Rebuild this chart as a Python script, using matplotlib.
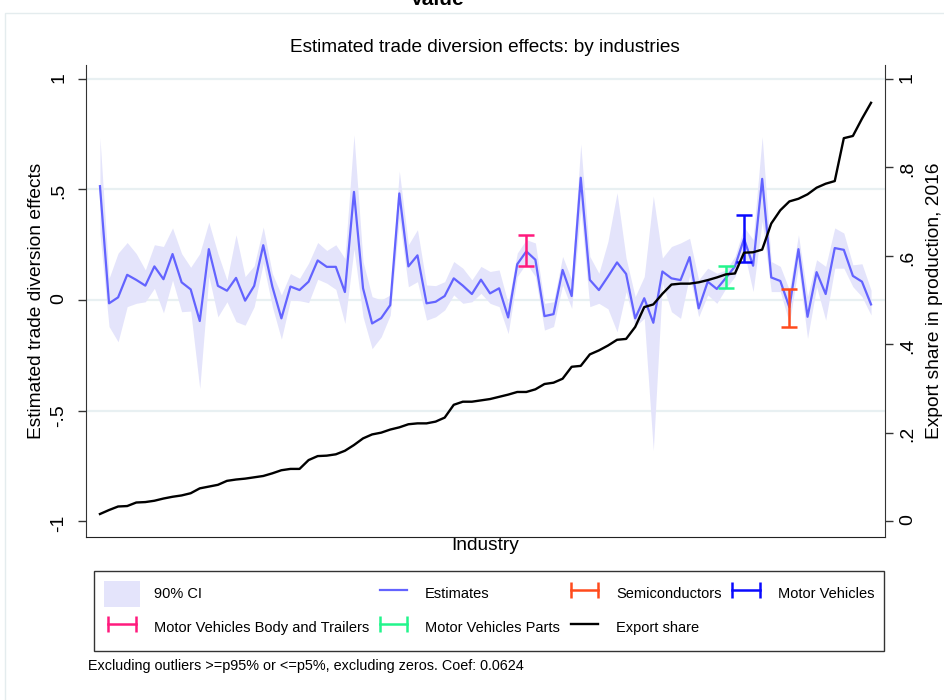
import numpy as np
import matplotlib
matplotlib.use("Agg")
import matplotlib.pyplot as plt
from matplotlib.lines import Line2D
from matplotlib.patches import Patch, Rectangle

plt.rcParams['font.family'] = ['Liberation Sans', 'DejaVu Sans']

# industry coefficients, sorted by export share
estimates = [
    0.515, -0.015, 0.012, 0.114, 0.091, 0.065, 0.152, 0.094, 0.208, 0.080,
    0.048, -0.095, 0.230, 0.064, 0.042, 0.100, -0.003, 0.064, 0.248, 0.061,
    -0.083, 0.061, 0.045, 0.083, 0.179, 0.150, 0.150, 0.036, 0.489, 0.053,
    -0.106, -0.082, -0.023, 0.482, 0.152, 0.202, -0.015, -0.008, 0.018, 0.098,
    0.065, 0.027, 0.092, 0.030, 0.053, -0.079, 0.162, 0.220, 0.182, -0.073,
    -0.064, 0.136, 0.018, 0.553, 0.091, 0.045, 0.106, 0.170, 0.118, -0.083,
    0.008, -0.103, 0.129, 0.098, 0.090, 0.194, -0.038, 0.083, 0.050, 0.100,
    0.152, 0.277, 0.155, 0.548, 0.102, 0.086, -0.033, 0.230, -0.076, 0.126,
    0.027, 0.235, 0.227, 0.109, 0.083, -0.020,
]
ci_hi = [
    0.734, 0.098, 0.212, 0.260, 0.210, 0.136, 0.250, 0.242, 0.326, 0.210,
    0.148, 0.210, 0.352, 0.210, 0.090, 0.295, 0.106, 0.155, 0.330, 0.120,
    0.023, 0.120, 0.098, 0.167, 0.260, 0.224, 0.250, 0.188, 0.747, 0.174,
    0.015, 0.000, 0.023, 0.583, 0.250, 0.318, 0.068, 0.065, 0.083, 0.174,
    0.144, 0.091, 0.152, 0.129, 0.136, -0.015, 0.212, 0.273, 0.258, -0.015,
    -0.008, 0.197, 0.091, 0.705, 0.197, 0.121, 0.265, 0.485, 0.189, 0.015,
    0.106, 0.470, 0.190, 0.242, 0.258, 0.279, 0.091, 0.144, 0.121, 0.136,
    0.197, 0.330, 0.273, 0.739, 0.174, 0.152, 0.045, 0.295, 0.015, 0.182,
    0.152, 0.326, 0.303, 0.159, 0.164, 0.045,
]
ci_lo = [
    0.300, -0.120, -0.189, -0.030, -0.015, -0.008, 0.053, -0.058, 0.090, -0.053,
    -0.050, -0.400, 0.108, -0.076, -0.008, -0.098, -0.114, -0.030, 0.167, -0.030,
    -0.177, 0.000, -0.003, -0.012, 0.094, 0.076, 0.048, -0.106, 0.231, -0.076,
    -0.220, -0.167, -0.068, 0.371, 0.060, 0.083, -0.091, -0.076, -0.045, 0.023,
    -0.015, -0.008, 0.030, -0.015, -0.030, -0.152, 0.106, 0.167, 0.106, -0.136,
    -0.120, 0.068, -0.038, 0.410, -0.030, -0.015, -0.040, -0.144, 0.038, -0.120,
    -0.083, -0.680, 0.076, -0.053, -0.083, 0.110, -0.076, 0.023, -0.015, 0.053,
    0.106, 0.220, 0.038, 0.357, 0.038, 0.038, -0.106, 0.152, -0.174, 0.060,
    -0.091, 0.144, 0.144, 0.060, 0.015, -0.068,
]
export_share = [
    0.016, 0.025, 0.033, 0.034, 0.042, 0.043, 0.046, 0.051, 0.055, 0.058,
    0.063, 0.074, 0.078, 0.082, 0.091, 0.094, 0.096, 0.099, 0.102, 0.108,
    0.115, 0.118, 0.118, 0.138, 0.147, 0.148, 0.151, 0.159, 0.172, 0.187,
    0.196, 0.200, 0.207, 0.212, 0.219, 0.221, 0.221, 0.225, 0.234, 0.263,
    0.270, 0.270, 0.273, 0.276, 0.281, 0.286, 0.292, 0.292, 0.298, 0.310,
    0.313, 0.322, 0.349, 0.351, 0.377, 0.386, 0.397, 0.410, 0.412, 0.439,
    0.484, 0.490, 0.514, 0.535, 0.537, 0.537, 0.540, 0.545, 0.551, 0.558,
    0.560, 0.607, 0.608, 0.614, 0.673, 0.703, 0.723, 0.729, 0.739, 0.754,
    0.763, 0.769, 0.866, 0.871, 0.910, 0.946,
]

# highlighted industries: position in the ordering and CI bounds
hl_names = ["Semiconductors", "Motor Vehicles",
            "Motor Vehicles Body and Trailers", "Motor Vehicles Parts"]
hl_pos = [77, 72, 48, 70]
hl_lo = [-0.121, 0.170, 0.152, 0.053]
hl_hi = [0.050, 0.386, 0.292, 0.152]
hl_colors = ["#ff4a1c", "#0a0aff", "#ff1a7d", "#22f58c"]

left_ticks = [-1, -0.5, 0, 0.5, 1]
left_labels = ["-1", "-.5", "0", ".5", "1"]
right_ticks = [0, 0.2, 0.4, 0.6, 0.8, 1]
right_labels = ["0", ".2", ".4", ".6", ".8", "1"]

x = np.arange(1, len(estimates) + 1)

W, H = 945, 700
fig = plt.figure(figsize=(W / 100, H / 100), dpi=100)

# faint outer frame of the graph region
fig.add_artist(Rectangle((5 / W, -0.1), 1.2, 1 - 13 / H + 0.1,
                         transform=fig.transFigure, fill=False,
                         edgecolor="#e4ecee", lw=1))
fig.text(437 / W, 1 - 5 / H, "Value", ha="center", va="baseline",
         fontsize=15, fontweight="bold")

ax = fig.add_axes([86 / W, 1 - 537 / H, (885 - 86) / W, (537 - 65) / H])
ax2 = ax.twinx()

for g in [-0.5, 0, 0.5, 1]:
    ax.axhline(g, color="#e8f0f2", lw=1.6, zorder=0)

ci_color = "#e4e4fb"
est_color = "#6363ff"
ax.fill_between(x, ci_lo, ci_hi, color=ci_color, lw=0, zorder=1)
ax.plot(x, estimates, color=est_color, lw=1.6, zorder=2)
for p, lo, hi, c in zip(hl_pos, hl_lo, hl_hi, hl_colors):
    mid = (lo + hi) / 2
    ax.errorbar([p], [mid], yerr=[[mid - lo], [hi - mid]], fmt="none",
                ecolor=c, elinewidth=1.8, capsize=6, capthick=1.8, zorder=3)

ax2.plot(x, export_share, color="black", lw=1.7)

ax.set_xlim(-0.54, 87.54)
ax.set_ylim(-1.072, 1.063)
ax2.set_ylim((-1.072 + 1) / 2, (1.063 + 1) / 2)

ax.set_xticks([])
ax.set_yticks(left_ticks)
ax.set_yticklabels(left_labels)
ax2.set_yticks(right_ticks)
ax2.set_yticklabels(right_labels)
ax.tick_params(axis="y", direction="out", length=6, width=1, pad=7.5,
               labelsize=14, labelrotation=90, color="#333333")
ax2.tick_params(axis="y", direction="out", length=6, width=1, pad=4,
                labelsize=14, labelrotation=90, color="#333333")

for s in ["top", "right"]:
    ax.spines[s].set_visible(False)
for s in ["top", "left", "bottom"]:
    ax2.spines[s].set_visible(False)
ax.spines["left"].set_color("#333333")
ax.spines["bottom"].set_color("#222222")
ax2.spines["right"].set_color("#333333")

ax.set_ylabel("Estimated trade diversion effects", fontsize=13.8)
ax.yaxis.set_label_coords((45 - 86) / 799, 0.5)
ax2.set_ylabel("Export share in production, 2016", fontsize=13.8)
ax2.yaxis.set_label_coords((926 - 86) / 799, 0.5)
ax.set_xlabel("Industry", fontsize=13.8, va="center")
ax.xaxis.set_label_coords(0.5, -(546 - 537) / 472)

fig.text(485 / W, 1 - 47 / H, "Estimated trade diversion effects: by industries",
         ha="center", va="center", fontsize=13.7)

# legend: |--| keys for the highlighted intervals
bar_handles = [Line2D([], [], color=c, lw=1.8, marker="|", markersize=12,
                      markeredgewidth=1.8) for c in hl_colors]
h_ci = Patch(facecolor=ci_color, edgecolor="none")
h_est = Line2D([], [], color=est_color, lw=1.6)
h_exp = Line2D([], [], color="black", lw=1.7)
handles = [h_ci, bar_handles[2], h_est, bar_handles[3],
           bar_handles[0], h_exp, bar_handles[1]]
labels = ["90% CI", hl_names[2], "Estimates", hl_names[3],
          hl_names[0], "Export share", hl_names[1]]
leg = fig.legend(handles, labels, ncol=4, loc="upper left",
                 bbox_to_anchor=(94 / W, 1 - 571 / H), borderaxespad=0,
                 fontsize=10.5, numpoints=2, handlelength=2.5,
                 handleheight=2.36, handletextpad=0.9, labelspacing=0.55,
                 columnspacing=0.45, borderpad=0.68, frameon=True,
                 fancybox=False)
leg.get_frame().set_edgecolor("black")
leg.get_frame().set_linewidth(1)

fig.text(88 / W, 1 - 666 / H,
         "Excluding outliers >=p95% or <=p5%, excluding zeros. Coef: 0.0624",
         ha="left", va="center", fontsize=10.4)

fig.savefig("out.png", dpi=100)
